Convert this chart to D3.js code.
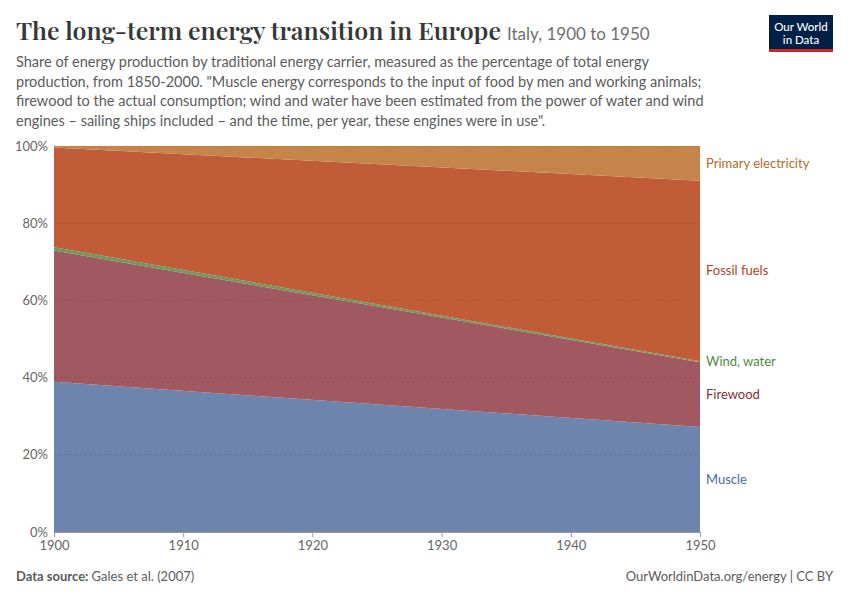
<!DOCTYPE html>
<html lang="en">
<head>
<meta charset="UTF-8">
<title>The long-term energy transition in Europe</title>
<script src="https://cdn.jsdelivr.net/npm/d3@7.9.0/dist/d3.min.js"></script>
<style>
    body { margin: 0; background: #fff; }
    svg { display: block; font-family: Lato, "Noto Sans", sans-serif; }
</style>
</head>
<body>
<svg id="chart" width="850" height="600"></svg>
<script>
// data: share of energy production (%), Italy
const years = [1900, 1950];
const keys = ['Muscle', 'Firewood', 'Wind, water', 'Fossil fuels', 'Primary electricity'];
const muscle = [38.9, 27.2];
const firewood = [34.0, 16.8];
const windWater = [0.9, 0.25];
const fossilFuels = [25.8, 46.75];
const primaryElectricity = [0.4, 9.0];
const yTicks = [0, 20, 40, 60, 80, 100];
const xTicks = [1900, 1910, 1920, 1930, 1940, 1950];

const areaColors = ['#6d84ad', '#a05961', '#6a9a5e', '#c05d38', '#c4844a'];
const labelColors = ['#4c6a9c', '#883039', '#4f8a3e', '#b0431c', '#b86a26'];

const rows = years.map((y, i) => ({
    year: y,
    'Muscle': muscle[i],
    'Firewood': firewood[i],
    'Wind, water': windWater[i],
    'Fossil fuels': fossilFuels[i],
    'Primary electricity': primaryElectricity[i]
}));

const svg = d3.select('#chart');

const x = d3.scaleLinear().domain([1900, 1950]).range([54, 700]);
const y = d3.scaleLinear().domain([0, 100]).range([532, 146]);

// header
svg.append('text')
    .attr('x', 16).attr('y', 40)
    .attr('font-family', '"Playfair Display", "DejaVu Serif", serif')
    .attr('font-size', 25)
    .attr('font-weight', 600)
    .attr('fill', '#373737')
    .attr('textLength', 485)
    .attr('lengthAdjust', 'spacingAndGlyphs')
    .text('The long-term energy transition in Europe');
svg.append('text')
    .attr('x', 507).attr('y', 40)
    .attr('font-size', 17)
    .attr('fill', '#6e6e6e')
    .text('Italy, 1900 to 1950');

const subtitle = [
    'Share of energy production by traditional energy carrier, measured as the percentage of total energy',
    'production, from 1850-2000. "Muscle energy corresponds to the input of food by men and working animals;',
    'firewood to the actual consumption; wind and water have been estimated from the power of water and wind',
    'engines – sailing ships included – and the time, per year, these engines were in use".'
];
svg.append('g').selectAll('text')
    .data(subtitle)
    .enter()
    .append('text')
    .attr('x', 16)
    .attr('y', (d, i) => 67 + i * 19.5)
    .attr('font-size', 14.5)
    .attr('fill', '#5b5b5b')
    .text(d => d);

// logo
const logo = svg.append('g');
logo.append('rect').attr('x', 769).attr('y', 15).attr('width', 64).attr('height', 37).attr('fill', '#002147');
logo.append('rect').attr('x', 769).attr('y', 49).attr('width', 64).attr('height', 3).attr('fill', '#ce261e');
logo.append('text').attr('x', 801).attr('y', 31).attr('text-anchor', 'middle')
    .attr('font-size', 11.5).attr('fill', '#fff').attr('font-weight', 500).text('Our World');
logo.append('text').attr('x', 801).attr('y', 44).attr('text-anchor', 'middle')
    .attr('font-size', 11.5).attr('fill', '#fff').attr('font-weight', 500).text('in Data');

// stacked areas
const series = d3.stack().keys(keys)(rows);
const area = d3.area()
    .x(d => x(d.data.year))
    .y0(d => y(d[0]))
    .y1(d => y(d[1]));

svg.append('g').selectAll('path')
    .data(series)
    .enter()
    .append('path')
    .attr('d', area)
    .attr('fill', (d, i) => areaColors[i]);

// gridlines over the areas, faint and dashed
svg.append('g').selectAll('line')
    .data(yTicks.filter(t => t > 0))
    .enter()
    .append('line')
    .attr('x1', 54).attr('x2', 700)
    .attr('y1', d => y(d)).attr('y2', d => y(d))
    .attr('stroke', '#000')
    .attr('stroke-opacity', 0.08)
    .attr('stroke-dasharray', '3,2');

// y axis labels
svg.append('g').selectAll('text')
    .data(yTicks)
    .enter()
    .append('text')
    .attr('x', 48)
    .attr('y', d => y(d) + 4.5)
    .attr('text-anchor', 'end')
    .attr('font-size', 13)
    .attr('fill', '#666')
    .text(d => d + '%');

// x axis
const xAxis = svg.append('g').attr('transform', 'translate(0,532)')
    .call(d3.axisBottom(x).tickValues(xTicks).tickFormat(d3.format('d')).tickSize(5).tickPadding(4));
xAxis.select('.domain').attr('stroke', '#999');
xAxis.selectAll('.tick line').attr('stroke', '#999');
xAxis.selectAll('.tick text')
    .attr('font-family', 'Lato, "Noto Sans", sans-serif')
    .attr('font-size', 13)
    .attr('fill', '#666');

// end labels at the middle of each band in 1950
svg.append('g').selectAll('text')
    .data(series)
    .enter()
    .append('text')
    .attr('x', 706)
    .attr('y', d => {
        let v = d[d.length - 1];
        return y((v[0] + v[1]) / 2) + 4.5;
    })
    .attr('font-size', 13)
    .attr('fill', (d, i) => labelColors[i])
    .text(d => d.key);

// footer
const src = svg.append('text').attr('x', 16).attr('y', 581).attr('font-size', 13).attr('fill', '#5b5b5b');
src.append('tspan').attr('font-weight', 700).text('Data source: ');
src.append('tspan').text('Gales et al. (2007)');
svg.append('text')
    .attr('x', 833).attr('y', 581)
    .attr('text-anchor', 'end')
    .attr('font-size', 13)
    .attr('fill', '#5b5b5b')
    .text('OurWorldinData.org/energy | CC BY');
</script>
</body>
</html>
